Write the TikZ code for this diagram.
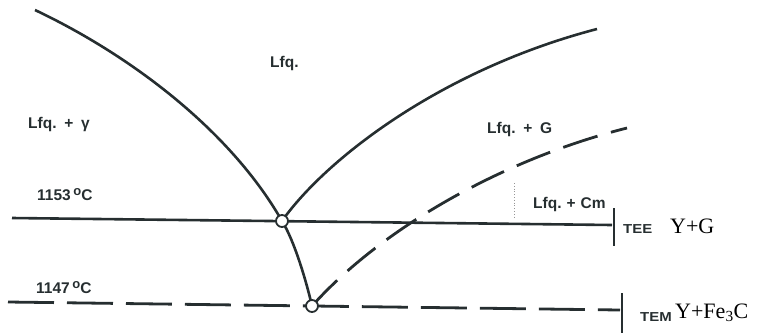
\documentclass[tikz,border=0pt]{standalone}
\usepackage{fontspec}
\newfontfamily\labfont{Liberation Sans}
\newfontfamily\tagfont[FakeStretch=1.15]{Liberation Sans}
\newfontfamily\serfont{Liberation Serif}
\definecolor{ink}{RGB}{38,46,48}
\definecolor{faint}{RGB}{150,150,150}
\newcommand{\degC}{\raisebox{0.5ex}{\fontsize{13}{13}\selectfont o}C}
\newcommand{\gapsp}{\hspace{5pt}}
\tikzset{
  curveline/.style={draw=ink, line width=2.6pt},
  dashcurve/.style={draw=ink, line width=2.8pt, dash pattern=on 36pt off 14pt},
  dashhline/.style={draw=ink, line width=2.8pt, dash pattern=on 46pt off 13pt},
  tickline/.style={draw=ink, line width=1.3pt},
  junction/.style={circle, draw=ink, fill=white, line width=1.8pt, minimum size=12pt, inner sep=0pt},
  lab/.style={anchor=base west, inner sep=0pt, text=ink, font=\labfont\bfseries\fontsize{15.5}{17}\selectfont},
  tag/.style={anchor=base west, inner sep=0pt, text=ink, font=\tagfont\bfseries\fontsize{13}{14}\selectfont},
  phase/.style={anchor=base west, inner sep=0pt, text=black, font=\serfont\fontsize{22}{24}\selectfont},
}
\begin{document}
\begin{tikzpicture}[x=1pt,y=-1pt]
\useasboundingbox (0,0) rectangle (758,333);
% coordinates
\coordinate (lstart) at (35,10);
\coordinate (rend) at (597,29);
\coordinate (dend) at (627,128);
\coordinate (eeL) at (12,218);
\coordinate (eeR) at (612,225);
\coordinate (emL) at (8,302);
\coordinate (emR) at (620,310);
\coordinate (t1a) at (614,208);
\coordinate (t1b) at (614,246);
\coordinate (t2a) at (622,293);
\coordinate (t2b) at (622,333);
\coordinate (da) at (514,183);
\coordinate (db) at (514,217);
\coordinate (E) at (282,221);
\coordinate (M) at (312,306);
% lines
\draw[tickline] (t1a) -- (t1b);
\draw[tickline] (t2a) -- (t2b);
\draw[curveline] (eeL) -- (eeR);
\draw[dashhline] (emL) -- (emR);
\draw[faint, line width=0.8pt, dotted] (da) -- (db);
\draw[curveline] (lstart) .. controls (130,55) and (230,130) .. (E);
\draw[curveline] (E) .. controls (325,160) and (440,70) .. (rend);
\draw[curveline] (E) .. controls (294,240) and (306,280) .. (M);
\draw[dashcurve] (M) .. controls (380,230) and (500,160) .. (dend);
% junctions
\node[junction] (eut) at (E) {};
\node[junction] (eum) at (M) {};
% labels
\node[lab] (liq) at (270,67) {Lfq.};
\node[lab] (lg) at (28,128) {Lfq.\enspace+\enspace γ};
\node[lab] (t1153) at (37,200) {1153\,\degC};
\node[lab] (lgr) at (487,133) {Lfq.\enspace+\enspace G};
\node[lab] (lcm) at (533,208) {Lfq.\gapsp+\gapsp Cm};
\node[lab] (t1147) at (36,293) {1147\,\degC};
\node[tag] (tee) at (623,233) {TEE};
\node[phase] (yg) at (670,233) {Y+G};
\node[tag] (tem) at (640,321) {TEM};
\node[phase] (yfe) at (675,318) {Y+Fe\textsubscript{3}C};
\end{tikzpicture}
\end{document}
